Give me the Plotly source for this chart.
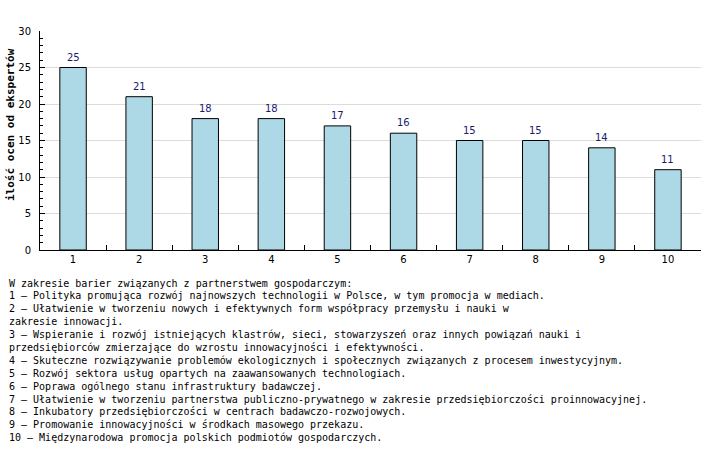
import plotly.graph_objects as go

categories = ["1", "2", "3", "4", "5", "6", "7", "8", "9", "10"]
values = [25, 21, 18, 18, 17, 16, 15, 15, 14, 11]
y_title = "ilość ocen od ekspertów"
legend_lines = [
    "W zakresie barier związanych z partnerstwem gospodarczym:",
    "1 – Polityka promująca rozwój najnowszych technologii w Polsce, w tym promocja w mediach.",
    "2 – Ułatwienie w tworzeniu nowych i efektywnych form współpracy przemysłu i nauki w",
    "zakresie innowacji.",
    "3 – Wspieranie i rozwój istniejących klastrów, sieci, stowarzyszeń oraz innych powiązań nauki i",
    "przedsiębiorców zmierzające do wzrostu innowacyjności i efektywności.",
    "4 – Skuteczne rozwiązywanie problemów ekologicznych i społecznych związanych z procesem inwestycyjnym.",
    "5 – Rozwój sektora usług opartych na zaawansowanych technologiach.",
    "6 – Poprawa ogólnego stanu infrastruktury badawczej.",
    "7 – Ułatwienie w tworzeniu partnerstwa publiczno-prywatnego w zakresie przedsiębiorczości proinnowacyjnej.",
    "8 – Inkubatory przedsiębiorczości w centrach badawczo-rozwojowych.",
    "9 – Promowanie innowacyjności w środkach masowego przekazu.",
    "10 – Międzynarodowa promocja polskich podmiotów gospodarczych.",
]

W, H = 707, 449
L, R, T, B = 40, 6, 31, 199
plot_w = W - L - R
plot_h = H - T - B

fig = go.Figure()
fig.add_trace(go.Bar(
    x=categories, y=values, width=0.4,
    marker=dict(color="#ADD8E6", line=dict(color="black", width=1)),
    hoverinfo="none",
))

annotations = []
for i, v in enumerate(values):
    annotations.append(dict(
        text=str(v), x=i, y=v, xref="x", yref="y",
        yanchor="bottom", yshift=3, showarrow=False,
        font=dict(family="DejaVu Sans", size=10, color="#1a1a6e"),
    ))
for i, line in enumerate(legend_lines):
    py = 283 + i * 12.9
    annotations.append(dict(
        text=line, xref="paper", yref="paper",
        x=(7 - L) / plot_w, y=(H - B - py) / plot_h,
        xanchor="left", yanchor="middle", showarrow=False,
        font=dict(family="DejaVu Sans Mono", size=10, color="black"),
    ))
annotations.append(dict(
    text="<b>" + y_title + "</b>", xref="paper", yref="paper",
    x=(10 - L) / plot_w, y=(H - B - 125) / plot_h, textangle=-90,
    xanchor="center", yanchor="middle", showarrow=False,
    font=dict(family="DejaVu Sans Mono", size=11, color="black"),
))

fig.update_layout(
    width=W, height=H, margin=dict(l=L, r=R, t=T, b=B, pad=0),
    paper_bgcolor="white", plot_bgcolor="white",
    showlegend=False, annotations=annotations,
    font=dict(family="DejaVu Sans", size=10, color="black"),
)
fig.update_xaxes(
    type="category", tickson="boundaries", ticks="inside", ticklen=5,
    tickcolor="black", showline=True, linecolor="black", linewidth=1,
    showgrid=False, tickfont=dict(family="DejaVu Sans", size=10),
)
fig.update_yaxes(
    range=[0, 30], dtick=5, ticks="inside", ticklen=5, tickcolor="black",
    showline=True, linecolor="black", linewidth=1,
    showgrid=True, gridcolor="#DCDCDC", zeroline=False,
    minor=dict(dtick=1, ticks="inside", ticklen=3, tickcolor="black", showgrid=False),
    tickfont=dict(family="DejaVu Sans", size=10), ticklabelstandoff=6,
)

fig.write_html(
    "out.html",
    config={"displayModeBar": False},
    post_script="document.body.style.margin='0';document.body.style.overflow='hidden';",
)
